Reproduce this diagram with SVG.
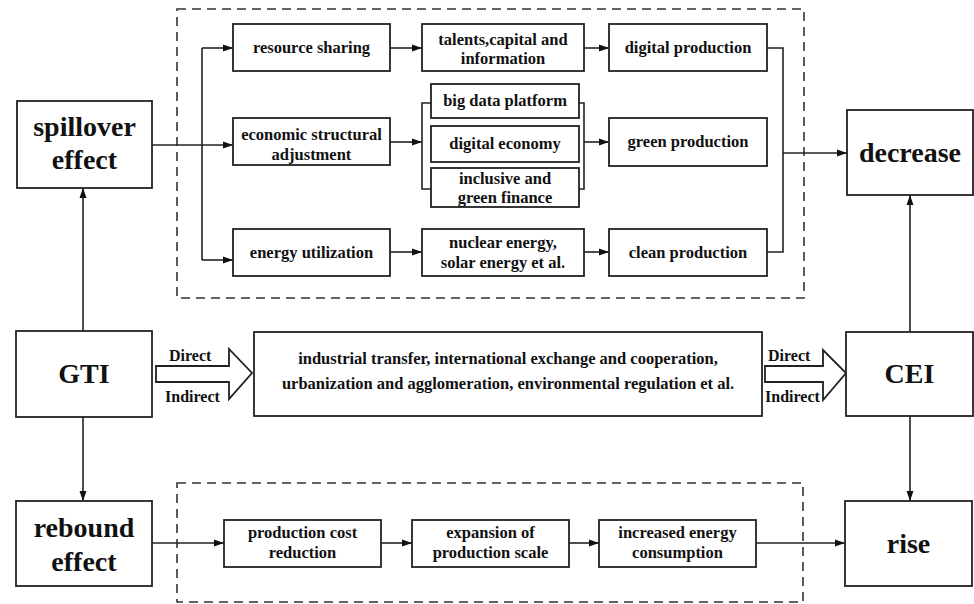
<svg xmlns="http://www.w3.org/2000/svg" width="974" height="604" viewBox="0 0 974 604">
<style>
.b{fill:#fff;stroke:#222;stroke-width:1.8}
.d{fill:none;stroke:#333;stroke-width:1.6;stroke-dasharray:9 6}
.l{fill:none;stroke:#222;stroke-width:1.6}
.t{font-family:"Liberation Serif","Times New Roman",serif;font-weight:bold;font-size:16.5px;fill:#111;text-anchor:middle}
.s{font-family:"Liberation Serif","Times New Roman",serif;font-weight:bold;font-size:16px;fill:#111}
.L{font-family:"Liberation Serif","Times New Roman",serif;font-weight:bold;font-size:28px;fill:#111;text-anchor:middle}
</style>
<defs>
<marker id="a" viewBox="0 0 10 10" refX="10" refY="5" markerWidth="10" markerHeight="10" markerUnits="userSpaceOnUse" orient="auto">
<path d="M0,1.5 L10,5 L0,8.5 Z" fill="#111"/>
</marker>
</defs>
<rect class="d" x="177" y="9" width="627" height="289"/>
<rect class="d" x="177" y="483" width="626" height="119"/>
<g id="connectors">
<path class="l" d="M202,48 V260"/>
<path class="l" d="M202,48 H233" marker-end="url(#a)"/>
<path class="l" d="M202,260 H233" marker-end="url(#a)"/>
<path class="l" d="M152,145 H233" marker-end="url(#a)"/>
<path class="l" d="M390,48 H422" marker-end="url(#a)"/>
<path class="l" d="M390,142 H422" marker-end="url(#a)"/>
<path class="l" d="M390,252 H422" marker-end="url(#a)"/>
<path class="l" d="M584,48 H609" marker-end="url(#a)"/>
<path class="l" d="M584,252 H609" marker-end="url(#a)"/>
<path class="l" d="M431,103 H422 V189 H431"/>
<path class="l" d="M579,103 H584 V189 H579"/>
<path class="l" d="M584,142 H609" marker-end="url(#a)"/>
<path class="l" d="M767,48 H783 V252 H767"/>
<path class="l" d="M783,153 H847" marker-end="url(#a)"/>
<path class="l" d="M83,331 V188" marker-end="url(#a)"/>
<path class="l" d="M83,417 V501" marker-end="url(#a)"/>
<path class="l" d="M910,332 V195" marker-end="url(#a)"/>
<path class="l" d="M910,416 V501" marker-end="url(#a)"/>
<path class="l" d="M152,543 H224" marker-end="url(#a)"/>
<path class="l" d="M381,543 H412" marker-end="url(#a)"/>
<path class="l" d="M569,543 H599" marker-end="url(#a)"/>
<path class="l" d="M756,543 H845" marker-end="url(#a)"/>
<path class="b" d="M156,366 H229 V349 L252,373 L229,399 V382 H156 Z" stroke-width="1.5"/>
<path class="b" d="M765,366 H823 V350 L846,373 L823,400 V382 H765 Z" stroke-width="1.5"/>
<text class="s" x="169" y="361">Direct</text>
<text class="s" x="165" y="402">Indirect</text>
<text class="s" x="768" y="361">Direct</text>
<text class="s" x="765" y="402">Indirect</text>
</g>
<g id="spillover"><rect class="b" x="17" y="101" width="135" height="87"/><text class="L" x="84.5" y="136">spillover</text><text class="L" x="84.5" y="169">effect</text></g>
<g id="gti"><rect class="b" x="16" y="331" width="136" height="86"/><text class="L" x="84" y="383">GTI</text></g>
<g id="rebound"><rect class="b" x="16" y="501" width="136" height="85"/><text class="L" x="84" y="537">rebound</text><text class="L" x="84" y="571">effect</text></g>
<g id="resource"><rect class="b" x="233" y="24" width="157" height="47"/><text class="t" x="311.5" y="53">resource sharing</text></g>
<g id="talents"><rect class="b" x="422" y="24" width="162" height="47"/><text class="t" x="503" y="45">talents,capital and</text><text class="t" x="503" y="64">information</text></g>
<g id="digitalprod"><rect class="b" x="609" y="24" width="158" height="47"/><text class="t" x="688" y="53">digital production</text></g>
<g id="economic"><rect class="b" x="233" y="118" width="157" height="47"/><text class="t" x="311.5" y="140">economic structural</text><text class="t" x="311.5" y="160">adjustment</text></g>
<g id="bigdata"><rect class="b" x="431" y="84" width="148" height="34"/><text class="t" x="505" y="106">big data platform</text></g>
<g id="digitaleco"><rect class="b" x="431" y="126" width="148" height="36"/><text class="t" x="505" y="149">digital economy</text></g>
<g id="inclusive"><rect class="b" x="431" y="168" width="148" height="39"/><text class="t" x="505" y="184">inclusive and</text><text class="t" x="505" y="203">green finance</text></g>
<g id="greenprod"><rect class="b" x="609" y="118" width="158" height="48"/><text class="t" x="688" y="147">green production</text></g>
<g id="energy"><rect class="b" x="233" y="229" width="157" height="47"/><text class="t" x="311.5" y="258">energy utilization</text></g>
<g id="nuclear"><rect class="b" x="422" y="229" width="162" height="47"/><text class="t" x="503" y="248">nuclear energy,</text><text class="t" x="503" y="268">solar energy et al.</text></g>
<g id="cleanprod"><rect class="b" x="609" y="229" width="158" height="47"/><text class="t" x="688" y="258">clean production</text></g>
<g id="decrease"><rect class="b" x="847" y="110" width="126" height="85"/><text class="L" x="910" y="162">decrease</text></g>
<g id="middle"><rect class="b" x="254" y="332" width="508" height="84"/><text class="t" x="508" y="364">industrial transfer, international exchange and cooperation,</text><text class="t" x="508" y="389">urbanization and agglomeration, environmental regulation et al.</text></g>
<g id="cei"><rect class="b" x="846" y="332" width="127" height="84"/><text class="L" x="909.5" y="383">CEI</text></g>
<g id="costred"><rect class="b" x="224" y="520" width="157" height="47"/><text class="t" x="302.5" y="538">production cost</text><text class="t" x="302.5" y="558">reduction</text></g>
<g id="expansion"><rect class="b" x="412" y="520" width="157" height="47"/><text class="t" x="490.5" y="538">expansion of</text><text class="t" x="490.5" y="558">production scale</text></g>
<g id="increased"><rect class="b" x="599" y="520" width="157" height="47"/><text class="t" x="677.5" y="538">increased energy</text><text class="t" x="677.5" y="558">consumption</text></g>
<g id="rise"><rect class="b" x="845" y="501" width="127" height="85"/><text class="L" x="908.5" y="553">rise</text></g>
</svg>
